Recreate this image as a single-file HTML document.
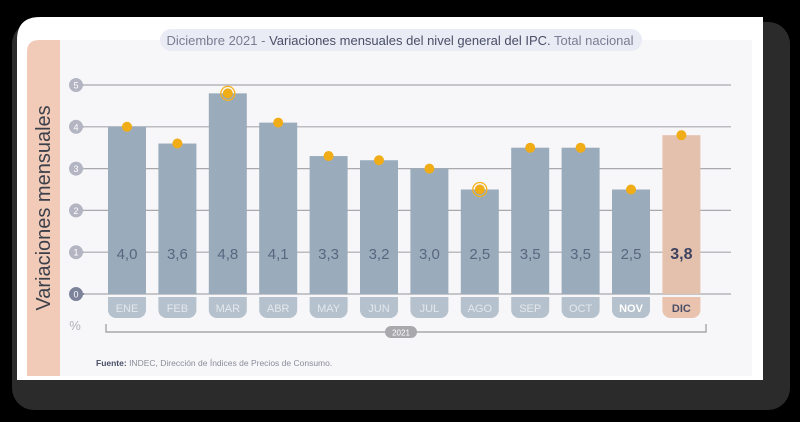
<!DOCTYPE html>
<html><head><meta charset="utf-8"><style>
body{margin:0;width:800px;height:417px;background:#000;overflow:hidden;font-family:"Liberation Sans",sans-serif}
</style></head><body>
<svg id="chart" width="800" height="417" xmlns="http://www.w3.org/2000/svg">
<rect x="12" y="22" width="778" height="388" rx="22" fill="#2b2b2b"/>
<path d="M17 380 V40 Q17 17 40 17 H763 V380 Z" fill="#ffffff"/>
<rect x="60" y="40" width="692" height="336" fill="#f7f7f9"/>
<path d="M27 376 V52 Q27 40 39 40 H60 V376 Z" fill="#f1cbb7"/>
<text transform="translate(50,208) rotate(-90)" text-anchor="middle" font-size="20" fill="#3b3f4a">Variaciones mensuales</text>
<rect x="160" y="29" width="482" height="22" rx="11" fill="#e9ecf5"/>
<text x="400" y="45" text-anchor="middle" font-size="13" fill="#7a7d92">Diciembre 2021 - <tspan fill="#4a4e66">Variaciones mensuales del nivel general del IPC.</tspan> Total nacional</text>
<g id="grid"></g><g id="bars"></g>
<text x="75" y="330" text-anchor="middle" font-size="13" fill="#b0b0b8">%</text>
<path d="M106 324 V332 H706 V324" fill="none" stroke="#999" stroke-width="1.2"/>
<rect x="385" y="326" width="32" height="12" rx="6" fill="#a9a9ad"/>
<text x="401" y="335.5" text-anchor="middle" font-size="8" fill="#fff">2021</text>
<text x="96" y="366" font-size="8.5" fill="#8a8c99"><tspan font-weight="bold" fill="#4a4e66">Fuente:</tspan> INDEC, Dirección de Índices de Precios de Consumo.</text>
</svg>
<script>
const months=["ENE","FEB","MAR","ABR","MAY","JUN","JUL","AGO","SEP","OCT","NOV","DIC"];
const values=[4.0,3.6,4.8,4.1,3.3,3.2,3.0,2.5,3.5,3.5,2.5,3.8];
const labels=["4,0","3,6","4,8","4,1","3,3","3,2","3,0","2,5","3,5","3,5","2,5","3,8"];
const ticks=[0,1,2,3,4,5];
const NS="http://www.w3.org/2000/svg";
const y=v=>294-v*41.8;
const x=i=>108+i*50.4;
const bw=38;
function mk(t,a,p){const e=document.createElementNS(NS,t);for(const k in a)e.setAttribute(k,a[k]);p.appendChild(e);return e;}
const g=document.getElementById('grid'),b=document.getElementById('bars');
ticks.forEach(t=>{
 const l=mk('line',{x1:82,x2:731,y1:y(t),y2:y(t),stroke:'#a8a8ae','stroke-width':1.2},g);
 
 
 const c=mk('path',{d:`M${69} ${y(t)} a7 7 0 1 1 0 .01 Z M75 ${y(t)-6} L85 ${y(t)} L75 ${y(t)+6}Z`,fill:t==0?'#7d829b':'#b3b5c3'},g);
 
 
 const tx=mk('text',{x:76,y:y(t)+3.5,'text-anchor':'middle','font-size':9,fill:'#fff'},g);tx.textContent=t;
 
 
});
values.forEach((v,i)=>{
 const last=i==11,nov=i==10;
 const r=mk('rect',{x:x(i),y:y(v),width:bw,height:y(0)-y(v),fill:last?'#e4c1ad':'#9aabbb'},b);
 
 
 const vt=mk('text',{x:x(i)+bw/2,y:259,'text-anchor':'middle','font-size':last?16:15,'font-weight':last?'bold':'normal',fill:last?'#3d4260':'#5a6680'},b);vt.textContent=labels[i];
 
 
 const p=mk('path',{d:`M${x(i)} 297 H${x(i)+bw} V310 a8 8 0 0 1 -8 8 H${x(i)+8} a8 8 0 0 1 -8 -8 Z`,fill:last?'#e9c3ae':'#b5c1cc'},b);
 
 
 const mt=mk('text',{x:x(i)+bw/2,y:312,'text-anchor':'middle','font-size':11,'font-weight':(last||nov)?'bold':'normal',fill:last?'#4a4e66':(nov?'#ffffff':'#e3e8ee')},b);mt.textContent=months[i];
 
 
 if(i==2||i==7){const h=mk('circle',{cx:x(i)+bw/2,cy:y(v),r:7,fill:'none',stroke:'#f4b21c','stroke-width':1.3},b);
  
  }
 const d=mk('circle',{cx:x(i)+bw/2,cy:y(v),r:5,fill:'#f1ad18'},b);
 
 
});
</script>
</body></html>
